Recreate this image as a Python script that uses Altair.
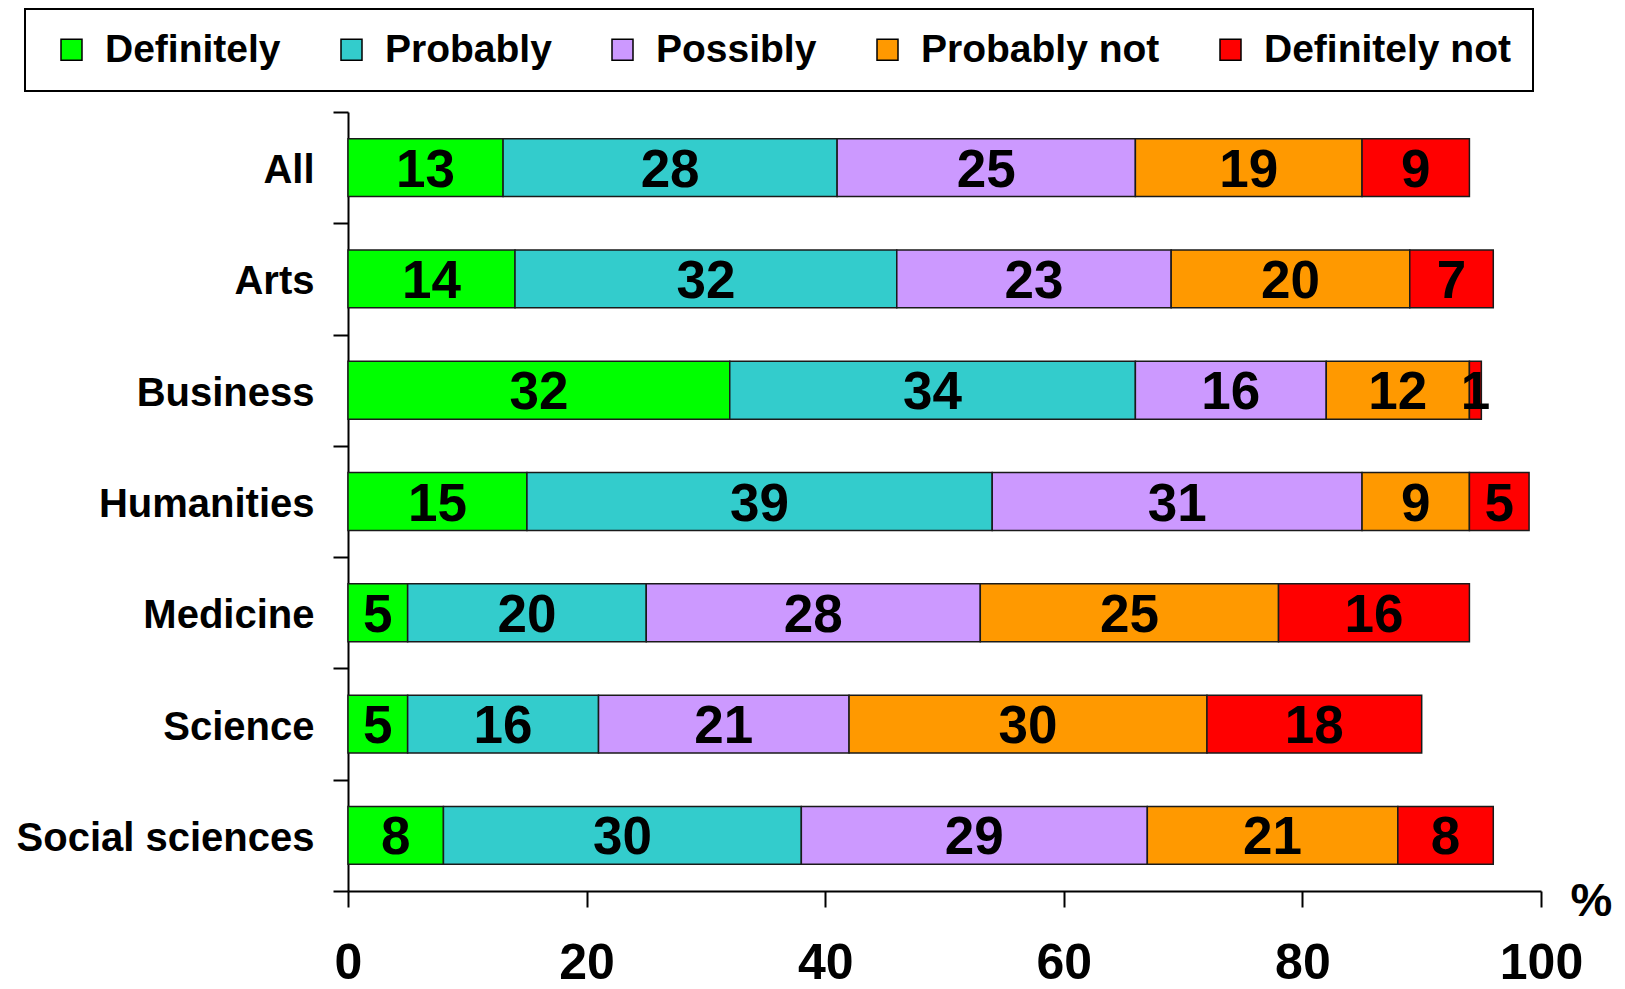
import altair as alt
import pandas as pd

categories = ["All", "Arts", "Business", "Humanities", "Medicine", "Science", "Social sciences"]
responses = ["Definitely", "Probably", "Possibly", "Probably not", "Definitely not"]
definitely = [13, 14, 32, 15, 5, 5, 8]
probably = [28, 32, 34, 39, 20, 16, 30]
possibly = [25, 23, 16, 31, 28, 21, 29]
probably_not = [19, 20, 12, 9, 25, 30, 21]
definitely_not = [9, 7, 1, 5, 16, 18, 8]
colors = ["#00ff00", "#33cccc", "#cc99ff", "#ff9900", "#ff0000"]
x_ticks = [0, 20, 40, 60, 80, 100]

series = [definitely, probably, possibly, probably_not, definitely_not]
rows = []
for k, (name, vals) in enumerate(zip(responses, series)):
    for cat, v in zip(categories, vals):
        rows.append({"category": cat, "response": name, "order": k, "value": v})
df = pd.DataFrame(rows)

FONT = "Liberation Sans"

base = (
    alt.Chart(df)
    .transform_stack(
        stack="value",
        groupby=["category"],
        sort=[alt.SortField("order", order="ascending")],
        as_=["x0", "x1"],
    )
    .transform_calculate(mid="(datum.x0 + datum.x1) / 2")
)

y_enc = alt.Y(
    "category:N",
    sort=categories,
    scale=alt.Scale(paddingInner=0, paddingOuter=0),
    axis=alt.Axis(
        title=None,
        tickBand="extent",
        tickSize=15,
        tickWidth=2,
        tickColor="black",
        domainColor="black",
        domainWidth=2,
        labelFont=FONT,
        labelFontSize=40,
        labelFontWeight="bold",
        labelColor="black",
        labelPadding=19,
        labelLimit=500,
        labelOffset=3,
    ),
)

x_enc = alt.X(
    "x0:Q",
    scale=alt.Scale(domain=[0, 100], nice=False),
    axis=alt.Axis(
        values=x_ticks,
        grid=False,
        title="%",
        titleFont=FONT,
        titleFontSize=47,
        titleFontWeight="bold",
        titleColor="black",
        titleX=1243,
        titleY=10,
        titleAlign="center",
        titleBaseline="middle",
        tickSize=16,
        tickWidth=2,
        tickColor="black",
        domainColor="black",
        domainWidth=2,
        labelFont=FONT,
        labelFontSize=50,
        labelFontWeight="bold",
        labelColor="black",
        labelPadding=31,
        labelFlush=False,
    ),
)

bars = base.mark_bar(
    stroke="#1a1a1a", strokeWidth=1.5, height=alt.RelativeBandSize(0.52)
).encode(
    x=x_enc,
    x2="x1:Q",
    y=y_enc,
    color=alt.Color(
        "response:N",
        sort=responses,
        scale=alt.Scale(domain=responses, range=colors),
        legend=alt.Legend(
            title=" ",
            titleOrient="left",
            titleFontSize=10,
            titlePadding=6,
            orient="none",
            legendX=-323,
            legendY=-103,
            direction="horizontal",
            columns=5,
            columnPadding=51,
            symbolType="square",
            symbolSize=441,
            symbolStrokeColor="black",
            symbolStrokeWidth=1.5,
            symbolOpacity=1,
            labelFont=FONT,
            labelFontSize=39,
            labelFontWeight="bold",
            labelColor="black",
            labelOffset=14,
            labelLimit=500,
            padding=21,
            strokeColor="black",
            fillColor="white",
        ),
    ),
)

labels = base.mark_text(
    font=FONT, fontSize=53, fontWeight="bold", color="black", baseline="middle", dy=3
).encode(
    x=alt.X("mid:Q"),
    y=alt.Y("category:N", sort=categories),
    text=alt.Text("value:Q"),
)

chart = (
    alt.layer(bars, labels)
    .properties(
        width=1193,
        height=779,
        autosize=alt.AutoSizeParams(type="none"),
        padding={"left": 340, "top": 104, "right": 74, "bottom": 98},
    )
    .configure_view(strokeWidth=0)
    .configure_legend(strokeWidth=2)
)

chart.save("out.html", embed_options={"renderer": "svg", "actions": False})
